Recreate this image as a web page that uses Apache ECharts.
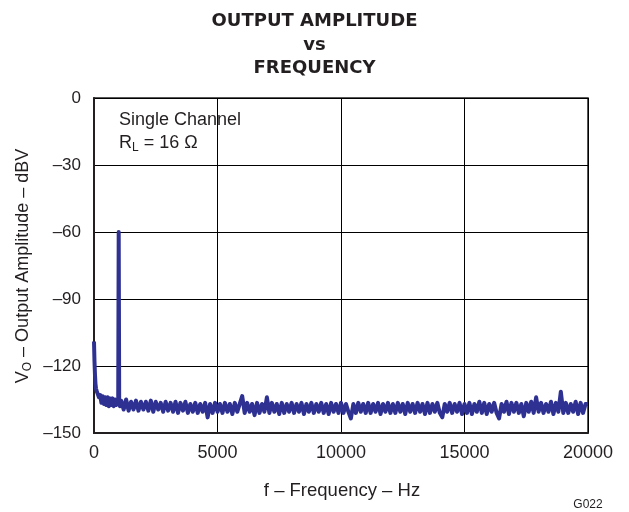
<!DOCTYPE html>
<html>
<head>
<meta charset="utf-8">
<script src="https://cdn.jsdelivr.net/npm/echarts@6/dist/echarts.min.js"></script>
<style>
html,body{margin:0;padding:0;background:#fff;}
#c{width:629px;height:512px;}
</style>
</head>
<body>
<div id="c"></div>
<script>
// ---- data ----
var freqHz = [0,20,40,60,80,100,150,200,250,300,350,400,450,500,550,600,650,700,750,800,850,900,950,980,1000,1020,1050,
  1100,1200,1300,1400,1500,1600,1700,1800,1900,2000,
  2100,2200,2300,2400,2500,2600,2700,2800,2900,3000,
  3100,3200,3300,3400,3500,3600,3700,3800,3900,4000,
  4100,4200,4300,4400,4500,4600,4700,4800,4900,5000,
  5100,5200,5300,5400,5500,5600,5700,5800,5900,6000,
  6100,6200,6300,6400,6500,6600,6700,6800,6900,7000,
  7100,7200,7300,7400,7500,7600,7700,7800,7900,8000,
  8100,8200,8300,8400,8500,8600,8700,8800,8900,9000,
  9100,9200,9300,9400,9500,9600,9700,9800,9900,10000,
  10100,10200,10300,10400,10500,10600,10700,10800,10900,11000,
  11100,11200,11300,11400,11500,11600,11700,11800,11900,12000,
  12100,12200,12300,12400,12500,12600,12700,12800,12900,13000,
  13100,13200,13300,13400,13500,13600,13700,13800,13900,14000,
  14100,14200,14300,14400,14500,14600,14700,14800,14900,15000,
  15100,15200,15300,15400,15500,15600,15700,15800,15900,16000,
  16100,16200,16300,16400,16500,16600,16700,16800,16900,17000,
  17100,17200,17300,17400,17500,17600,17700,17800,17900,18000,
  18100,18200,18300,18400,18500,18600,18700,18800,18900,19000,
  19100,19200,19300,19400,19500,19600,19700,19800,19900,20000];
var amplitudeDbv = [-109,-118,-124,-128,-130,-131,-132.5,-134,-133,-136.5,-133.5,-137,-134,-137.5,-134,-138,-134.5,-137.5,-134.5,-138,-135,-137.5,-135,-137,-60,-136,-138,
  -135.5,-139.5,-135,-140,-136,-139.5,-135.5,-140,-136,-139.5,
  -136,-140,-135.5,-140.5,-136,-139.5,-136.5,-140.5,-136,-140,
  -136.5,-140.5,-136,-141,-136.5,-140,-136,-141,-137,-140.5,
  -136.5,-141,-137,-140.5,-136.5,-143,-137,-141,-136.5,-140.5,
  -137,-141,-136.5,-140.5,-137,-141.5,-136.5,-140.5,-137,-133.5,
  -141,-136.5,-140.5,-137,-142,-136.5,-141,-137,-140.5,-134,
  -141,-136.5,-140.5,-137,-141.5,-136.5,-141,-137,-140.5,-136.5,
  -141,-137,-140.5,-136.5,-141.5,-137,-140.5,-136.5,-141,-137,
  -140.5,-136.5,-141,-137,-141.5,-136.5,-140.5,-137,-141,-136.5,
  -141,-137,-140.5,-143.5,-137,-141,-136.5,-140.5,-137,-141,
  -136.5,-141,-137,-140.5,-136.5,-141.5,-137,-140.5,-136.5,-141,
  -137,-141,-136.5,-140.5,-137,-141.5,-136.5,-140.5,-137,-141,
  -136.5,-140.5,-137,-141.5,-136.5,-141,-137,-140.5,-136.5,-141,
  -143,-137,-140.5,-136.5,-141,-137,-140.5,-136.5,-141.5,-137,
  -141,-136.5,-141.5,-137,-140.5,-136,-141,-136.5,-141.5,-137,
  -140.5,-136.5,-141,-143.5,-137,-140.5,-136,-141.5,-136.5,-140.5,
  -136.5,-141,-137,-142.5,-136.5,-140.5,-136,-141,-134,-140.5,
  -136.5,-141,-137,-140.5,-136,-141.5,-136.5,-140.5,-131.5,-141,
  -136.5,-141,-137,-140.5,-136,-141.5,-136.5,-141,-137,-137];
var xTicks = [0, 5000, 10000, 15000, 20000];
var yTicks = [0, -30, -60, -90, -120, -150];

var chart = echarts.init(document.getElementById('c'), null, {renderer: 'canvas'});
var FONT = 'Liberation Sans, Arial, sans-serif';
var TXT = '#231f20';
var series = freqHz.map(function (f, i) { return [f, amplitudeDbv[i]]; });

chart.setOption({
  animation: false,
  backgroundColor: '#fff',
  title: {
    text: 'OUTPUT AMPLITUDE\nvs\nFREQUENCY',
    left: 'center',
    top: 5,
    textStyle: {fontFamily: 'DejaVu Sans', fontSize: 18, fontWeight: 'bold', color: TXT, lineHeight: 23.5}
  },
  grid: {left: 94, right: 41, top: 98, bottom: 79, show: true, borderColor: '#231f20', borderWidth: 1.5},
  xAxis: {
    type: 'value', min: 0, max: 20000, interval: 5000,
    axisLine: {show: true, onZero: false, lineStyle: {color: '#231f20', width: 2}},
    axisTick: {show: false},
    splitLine: {show: true, lineStyle: {color: '#000', width: 1}},
    axisLabel: {fontFamily: FONT, fontSize: 18, color: TXT, margin: 11,
      formatter: function (v) { return String(v); }}
  },
  yAxis: {
    type: 'value', min: -150, max: 0, interval: 30,
    axisLine: {show: true, onZero: false, lineStyle: {color: '#231f20', width: 2}},
    axisTick: {show: false},
    splitLine: {show: true, lineStyle: {color: '#000', width: 1}},
    axisLabel: {fontFamily: FONT, fontSize: 17, color: TXT, margin: 13,
      formatter: function (v) { return String(v).replace('-', '\u2013'); }}
  },
  series: [{
    type: 'line', data: series, showSymbol: false, symbol: 'none',
    lineStyle: {color: '#2e3192', width: 4, join: 'round'},
    itemStyle: {color: '#2e3192'}
  }],
  graphic: [
    {type: 'text', left: 119, top: 111, style: {text: 'Single Channel', font: '18px ' + FONT, fill: TXT}},
    {type: 'text', left: 119, top: 134, style: {
      text: '{a|R}{s|L}{a| = 16 \u03A9}',
      rich: {a: {fontSize: 18, fontFamily: FONT, fill: TXT, color: TXT},
             s: {fontSize: 12, fontFamily: FONT, fill: TXT, color: TXT, padding: [9, 0, 0, 0]}}
    }},
    {type: 'text', x: 342, y: 491, style: {text: 'f \u2013 Frequency \u2013 Hz', font: '18.5px ' + FONT, fill: TXT, textAlign: 'center', textVerticalAlign: 'middle'}},
    {type: 'text', x: 588, y: 505, style: {text: 'G022', font: '12px ' + FONT, fill: TXT, textAlign: 'center', textVerticalAlign: 'middle'}},
    {type: 'text', x: 23, y: 266, rotation: Math.PI / 2, style: {
      text: '{a|V}{s|O}{a| \u2013 Output Amplitude \u2013 dBV}',
      textAlign: 'center', textVerticalAlign: 'middle',
      rich: {a: {fontSize: 18, fontFamily: FONT, fill: TXT, color: TXT},
             s: {fontSize: 12, fontFamily: FONT, fill: TXT, color: TXT, padding: [9, 0, 0, 0]}}
    }}
  ]
});
</script>
</body>
</html>
